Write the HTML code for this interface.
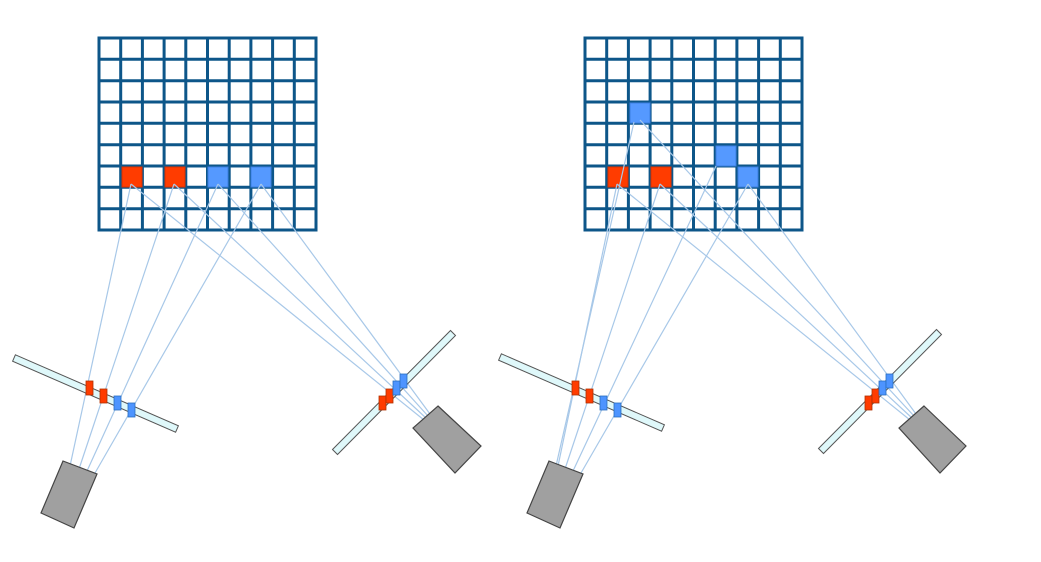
<!DOCTYPE html>
<html><head><meta charset="utf-8"><style>html,body{margin:0;padding:0;background:#fff}svg{display:block}</style></head>
<body>
<svg width="1041" height="562" viewBox="0 0 1041 562" xmlns="http://www.w3.org/2000/svg">
<defs>
<g id="grid">
  <rect x="0" y="0" width="217" height="192" fill="#fff" stroke="#0d5689" stroke-width="3"/>
  <g stroke="#0d5689" stroke-width="3">
    <line x1="21.7" y1="0" x2="21.7" y2="192"/><line x1="43.4" y1="0" x2="43.4" y2="192"/>
    <line x1="65.1" y1="0" x2="65.1" y2="192"/><line x1="86.8" y1="0" x2="86.8" y2="192"/>
    <line x1="108.5" y1="0" x2="108.5" y2="192"/><line x1="130.2" y1="0" x2="130.2" y2="192"/>
    <line x1="151.9" y1="0" x2="151.9" y2="192"/><line x1="173.6" y1="0" x2="173.6" y2="192"/>
    <line x1="195.3" y1="0" x2="195.3" y2="192"/>
    <line x1="0" y1="21.3" x2="217" y2="21.3"/><line x1="0" y1="42.7" x2="217" y2="42.7"/>
    <line x1="0" y1="64" x2="217" y2="64"/><line x1="0" y1="85.3" x2="217" y2="85.3"/>
    <line x1="0" y1="106.7" x2="217" y2="106.7"/><line x1="0" y1="128" x2="217" y2="128"/>
    <line x1="0" y1="149.3" x2="217" y2="149.3"/><line x1="0" y1="170.7" x2="217" y2="170.7"/>
  </g>
</g>
<polygon id="barL" points="15.4,354.8 178.4,425.8 175.6,432.2 12.6,361.2" fill="#dff8fa" stroke="#555" stroke-width="1"/>
<polygon id="barR" points="332.5,449.5 450.5,330.5 455.5,335.5 337.5,454.5" fill="#dff8fa" stroke="#555" stroke-width="1"/>
</defs>

<!-- LEFT DIAGRAM -->
<use href="#grid" x="99" y="38"/>
<rect x="122" y="167" width="20" height="20" fill="#ff3c00" stroke="#d83000"/>
<rect x="165" y="167" width="20" height="20" fill="#ff3c00" stroke="#d83000"/>
<rect x="208" y="167" width="20" height="20" fill="#5599ff" stroke="#3b7fe0"/>
<rect x="251" y="167" width="20" height="20" fill="#5599ff" stroke="#3b7fe0"/>

<g stroke="#a8c8e8" stroke-width="1.2" fill="none">
  <line x1="70" y1="466" x2="131" y2="184"/>
  <line x1="79" y1="469" x2="174" y2="184"/>
  <line x1="87" y1="471" x2="218" y2="184"/>
  <line x1="95" y1="473" x2="261" y2="184"/>
  <line x1="424" y1="420" x2="131" y2="184"/>
  <line x1="426" y1="418" x2="174" y2="184"/>
  <line x1="428" y1="416" x2="218" y2="184"/>
  <line x1="430" y1="414" x2="261" y2="184"/>
</g>

<use href="#barL"/>
<use href="#barR"/>

<rect x="86" y="381" width="7" height="14" fill="#ff3c00" stroke="#b03000" stroke-width="0.8"/>
<rect x="100" y="389" width="7" height="14" fill="#ff3c00" stroke="#b03000" stroke-width="0.8"/>
<rect x="114" y="396" width="7" height="14" fill="#4d94ff" stroke="#2a6fc0" stroke-width="0.8"/>
<rect x="128" y="403" width="7" height="14" fill="#4d94ff" stroke="#2a6fc0" stroke-width="0.8"/>

<rect x="379" y="396" width="7" height="14" fill="#ff3c00" stroke="#b03000" stroke-width="0.8"/>
<rect x="386" y="389" width="7" height="14" fill="#ff3c00" stroke="#b03000" stroke-width="0.8"/>
<rect x="393" y="381" width="7" height="14" fill="#4d94ff" stroke="#2a6fc0" stroke-width="0.8"/>
<rect x="400" y="374" width="7" height="14" fill="#4d94ff" stroke="#2a6fc0" stroke-width="0.8"/>

<polygon points="63,461 97,474 74,528 41,513" fill="#a0a0a0" stroke="#444" stroke-width="1.2"/>
<polygon points="438,406 481,446 455,473 413,428" fill="#a0a0a0" stroke="#444" stroke-width="1.2"/>

<!-- RIGHT DIAGRAM -->
<use href="#grid" x="585" y="38"/>
<rect x="608" y="167" width="20" height="20" fill="#ff3c00" stroke="#d83000"/>
<rect x="651" y="167" width="20" height="20" fill="#ff3c00" stroke="#d83000"/>
<rect x="630" y="103" width="20" height="20" fill="#5599ff" stroke="#3b7fe0"/>
<rect x="716" y="146" width="20" height="20" fill="#5599ff" stroke="#3b7fe0"/>
<rect x="738" y="167" width="20" height="20" fill="#5599ff" stroke="#3b7fe0"/>

<g stroke="#a8c8e8" stroke-width="1.2" fill="none">
  <line x1="556" y1="466" x2="634" y2="122"/>
  <line x1="558" y1="466" x2="617" y2="184"/>
  <line x1="565" y1="469" x2="660" y2="184"/>
  <line x1="573" y1="471" x2="716" y2="166"/>
  <line x1="581" y1="473" x2="748" y2="184"/>
  <line x1="910" y1="420" x2="617" y2="184"/>
  <line x1="912" y1="418" x2="660" y2="184"/>
  <line x1="914" y1="416" x2="640" y2="120"/>
  <line x1="916" y1="414" x2="748" y2="184"/>
</g>

<use href="#barL" x="486" y="-1"/>
<use href="#barR" x="486" y="-1"/>

<rect x="572" y="381" width="7" height="14" fill="#ff3c00" stroke="#b03000" stroke-width="0.8"/>
<rect x="586" y="389" width="7" height="14" fill="#ff3c00" stroke="#b03000" stroke-width="0.8"/>
<rect x="600" y="396" width="7" height="14" fill="#4d94ff" stroke="#2a6fc0" stroke-width="0.8"/>
<rect x="614" y="403" width="7" height="14" fill="#4d94ff" stroke="#2a6fc0" stroke-width="0.8"/>

<rect x="865" y="396" width="7" height="14" fill="#ff3c00" stroke="#b03000" stroke-width="0.8"/>
<rect x="872" y="389" width="7" height="14" fill="#ff3c00" stroke="#b03000" stroke-width="0.8"/>
<rect x="879" y="381" width="7" height="14" fill="#4d94ff" stroke="#2a6fc0" stroke-width="0.8"/>
<rect x="886" y="374" width="7" height="14" fill="#4d94ff" stroke="#2a6fc0" stroke-width="0.8"/>

<polygon points="549,461 583,474 560,528 527,513" fill="#a0a0a0" stroke="#444" stroke-width="1.2"/>
<polygon points="924,406 966,446 940,473 899,428" fill="#a0a0a0" stroke="#444" stroke-width="1.2"/>
</svg>
</body></html>
